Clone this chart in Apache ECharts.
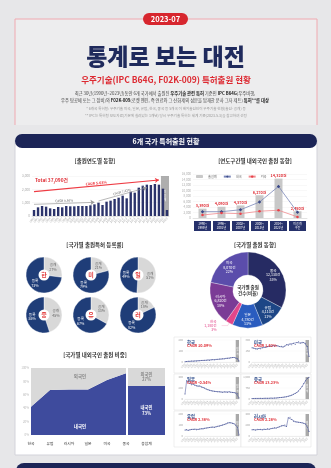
<!DOCTYPE html>
<html><head><meta charset="utf-8">
<script src="https://cdn.jsdelivr.net/npm/echarts/dist/echarts.min.js"></script>
<style>html,body{margin:0;padding:0;background:#e7e7e9;}#c{width:331px;height:468px;}</style>
</head><body><div id="c"></div><script>
// ---------- DATA ----------
const years = ['1990','1991','1992','1993','1994','1995','1996','1997','1998','1999','2000','2001','2002','2003','2004','2005','2006','2007','2008','2009','2010','2011','2012','2013','2014','2015','2016','2017','2018','2019','2020','2021','2022','2023'];
const yearlyApps = [450,650,750,700,575,525,675,650,750,725,725,750,750,750,800,875,1000,825,1075,1150,1275,1375,1525,1325,1825,1750,2125,2275,2350,2325,2400,2350,2050,450];
const yearlyTicks = [0,1000,2000,3000];

const periodLabels = ['1990~\n1995년','1996~\n2001년','2002~\n2007년','2008~\n2013년','2014~\n2021년','미공개\n구간'];
const periodTotal = [3390,4090,4570,8270,14320,2450];
const periodDomestic = [2300,2300,3000,5800,11500,2050];
const periodForeign = [1090,1790,1570,2470,2820,400];

const regCountries = ['한','미','일','중','유','러'];
const regRates = [73,79,49,55,67,82];

const countryNames = ['중국','유럽','일본','한국','러시아','미국'];
const countryCounts = [12130,4110,4780,1180,6820,8070];

const shareCountries = ['한국','유럽','러시아','일본','미국','중국'];
const domesticShare = [42,67,68,68,82,92];
const totalLabel = ['총합계'];
const totalDomesticShare = [73];

const lineNames = ['한국','미국','일본','중국','유럽','러시아'];
const lineCagr = ['CAGR 10.09%','CAGR 1.62%','CAGR -0.54%','CAGR 13.23%','CAGR 2.38%','CAGR 2.28%'];
const lineMax = [200,300,400,1500,200,400];
const krLine = [3,4,6,5,8,7,10,9,12,11,14,13,15,16,18,17,20,22,21,25,24,28,27,30,29,33,35,34,38,40,42,36,30,8];
const usLine = [195,190,180,175,185,180,195,205,200,210,215,210,222,215,225,220,210,215,205,215,235,228,245,235,255,240,265,275,258,270,265,255,210,75];
const jpLine = [90,330,340,280,260,270,250,240,230,235,220,210,200,180,170,160,150,145,140,135,130,132,128,125,130,128,125,130,122,120,118,110,95,20];
const cnLine = [30,35,40,38,42,45,40,48,50,55,52,60,58,65,70,80,95,110,120,140,160,190,220,260,320,380,450,550,700,850,1050,1250,1400,1480];
const euLine = [55,58,52,56,60,58,62,57,60,63,66,64,70,72,75,78,80,82,80,85,88,90,95,100,105,110,118,122,120,116,112,100,80,10];
const ruLine = [115,120,110,125,118,122,115,128,120,130,125,135,140,150,145,160,170,185,190,200,175,330,340,300,270,260,255,250,245,240,230,220,160,80];
const lineData = [krLine,usLine,jpLine,cnLine,euLine,ruLine];

// ---------- HELPERS ----------
const FONT = '"Noto Sans CJK KR","Noto Sans",sans-serif';
const fmt = n => String(n).replace(/\B(?=(\d{3})+(?!\d))/g, ',');
const NAVY = '#1c2557';
const RED = '#e0323a';
function T(text, x, y, size, color, weight, align, extra) {
  return Object.assign({type:'text', z:60, silent:true, style:Object.assign({text, x, y, fontSize:size, fontFamily:FONT,
    fontWeight:weight||'normal', fill:color, align:align||'center', verticalAlign:'middle'}, extra||{})});
}
const richB = {b:{fontSize:4.3, fontWeight:'bold', fill:'#1d1d1d', fontFamily:FONT}};

const graphic = [
  {type:'rect', z:-20, silent:true, shape:{x:15,y:19,width:302,height:106}, style:{fill:'#ededee'}},
  {type:'polyline', z:-19, silent:true, shape:{points:[[15,125],[15,19],[317,19],[317,125]]}, style:{stroke:'#f0a9b0', lineWidth:1, fill:null}},
  {type:'rect', z:-18, silent:true, shape:{x:143,y:13,width:45,height:12,r:6}, style:{fill:'#d7262e'}},
  T('2023-07',165.5,19.5,7.5,'#fff','bold'),
  T('통계로 보는 대전',165.5,56,23,'#1f2a5c','900'),
  T('우주기술(IPC B64G, F02K-009) 특허출원 현황',166,80,8.5,'#dd2a32','bold'),
  T('최근 30년(1990년~2023년)동안 6개 국가에서 출원된 {b|우주기술 관련 특허} 기준인 {b|IPC B64G}(우주비행,',165,93,4.3,'#444','normal','center',{rich:richB}),
  T('우주 탐공체 또는 그 장비)와 {b|F02K-009}(로켓 엔진, 즉 연료와 그 산화제의 성분을 탑재한 분사 그자 제트) {b|특허**를 대상}',165,100,4.3,'#444','normal','center',{rich:richB}),
  T('* 6개국 특허청: 우주기술 미국, 일본, 유럽, 한국, 중국 등 5개국 이 해외출원인이 우주기술 현황(출원·공개) 등',166,109,3.6,'#999'),
  T('** IPC는 특허청 보도자료(기본에 실려있는 1개년) 당시 우주기술 특허는 세계 기준(2023.5.3)을 참고하여 선정',166,116,3.6,'#999'),
  {type:'rect', z:-15, silent:true, shape:{x:15,y:140,width:302,height:315}, style:{fill:'#fff', stroke:'#d3d3da', lineWidth:1}},
  {type:'rect', z:-14, silent:true, shape:{x:15,y:134,width:302,height:14,r:7}, style:{fill:NAVY}},
  T('6개 국가 특허출원 현황',166,141,7,'#fff','bold'),
  {type:'rect', z:-14, silent:true, shape:{x:16,y:463,width:300,height:20,r:8}, style:{fill:NAVY}},
  T('[출원연도별 동향]',95,161,5.5,'#333','bold'),
  T('[연도구간별 내외국인 출원 동향]',255,161,5.5,'#333','bold'),
  T('[국가별 출원특허 등록률]',95,245,5.5,'#333','bold'),
  T('[국가별 출원 동향]',255,245,5.5,'#333','bold'),
  T('[국가별 내외국인 출원 비중]',95,355,5.5,'#333','bold'),
  T('Total 37,090건',35,180,4.8,RED,'bold','left'),
  T('국가별 출원\n건수(비율)',248,290,4.5,'#333','bold','center',{lineHeight:6}),
  T('외국인',80,376,4.5,'#8a8a8a','bold'),
  T('내국인',80,426,4.5,'#fff','bold')
];

// ---------- OPTION ----------
const grid = [
  {left:32, top:176, width:137, height:40},
  {left:193, top:174, width:114, height:44},
  {left:31, top:368, width:95, height:67},
  {left:128, top:368, width:37, height:67}
];
const xAxis = [
  {gridIndex:0, type:'category', data:years, axisTick:{show:false}, axisLine:{lineStyle:{color:'#ccc', width:0.5}},
   axisLabel:{fontSize:2.8, rotate:45, color:'#aaa', interval:0, margin:2}},
  {gridIndex:1, type:'category', data:periodLabels, axisTick:{show:false}, axisLine:{lineStyle:{color:'#ccc', width:0.5}},
   axisLabel:{interval:0, color:'#fff', fontSize:3, lineHeight:3.8, backgroundColor:'#26316b', width:17, height:9, padding:[1,0,0,0], margin:3, align:'center'}},
  {gridIndex:2, type:'category', data:shareCountries, boundaryGap:false, axisTick:{show:false}, axisLine:{show:false},
   axisLabel:{fontSize:3.8, color:'#333', margin:7}},
  {gridIndex:3, type:'category', data:totalLabel, axisTick:{show:false}, axisLine:{show:false},
   axisLabel:{fontSize:3.8, color:'#333', margin:7}}
];
const yAxis = [
  {gridIndex:0, type:'value', min:yearlyTicks[0], max:yearlyTicks[3], interval:1000, axisLabel:{fontSize:3.2, color:'#aaa', margin:2, formatter:v=>fmt(v)}, splitLine:{lineStyle:{color:'#f0f0f0', width:0.5}}},
  {gridIndex:1, type:'value', min:0, max:16000, interval:2000, axisLabel:{fontSize:3, color:'#aaa', margin:2, formatter:v=>fmt(v)}, splitLine:{lineStyle:{color:'#f0f0f0', width:0.5}}},
  {gridIndex:2, type:'value', min:0, max:100, interval:20, axisLabel:{fontSize:3, color:'#bbb', margin:2, formatter:'{value}%'}, splitLine:{show:false}},
  {gridIndex:3, type:'value', min:0, max:100, show:false}
];
const series = [];
// yearly bars
series.push({type:'bar', xAxisIndex:0, yAxisIndex:0, data:yearlyApps, barWidth:2.4, itemStyle:{color:'#2b336b'},
  markArea:{silent:true, itemStyle:{color:'rgba(140,140,140,0.7)'}, label:{show:true, position:'inside', formatter:'미\n공\n개', fontSize:3, lineHeight:4, color:'#fff'},
    data:[[{xAxis:'2022'},{xAxis:'2023'}]]},
  markLine:{silent:true, symbol:['none','arrow'], symbolSize:4, animation:false,
    data:[
      [{coord:['1990',1825], lineStyle:{color:'#ee3b43', width:1.1, type:'solid'}, label:{show:true, position:'middle', formatter:'CAGR 5.68%', color:'#ee3b43', fontSize:3.6, fontWeight:'bold', distance:1}}, {coord:['2021',2700]}],
      [{coord:['1990',875], lineStyle:{color:'#999', width:0.7, type:'solid'}, label:{show:true, position:'middle', formatter:'CAGR 0.56%', color:'#666', fontSize:3.2, distance:1}}, {coord:['2005',1025]}],
      [{coord:['2006',1125], lineStyle:{color:'#999', width:0.7, type:'solid'}, label:{show:true, position:'middle', formatter:'CAGR 7.42%', color:'#666', fontSize:3.2, distance:1}}, {coord:['2018',2125]}]
    ]}
});
// period chart
series.push({name:'출원계', type:'bar', xAxisIndex:1, yAxisIndex:1, data:periodTotal, barWidth:8, itemStyle:{color:'#c8c8c8'},
  label:{show:true, position:'top', distance:1, color:RED, fontSize:3.8, fontWeight:'bold', formatter:p=>fmt(p.value)+'건'}});
series.push({name:'내국', type:'line', xAxisIndex:1, yAxisIndex:1, data:periodDomestic, symbol:'diamond', symbolSize:3.5, itemStyle:{color:'#3b4a88'}, lineStyle:{width:0.8, color:'#7a86b8'}});
series.push({name:'외국', type:'line', xAxisIndex:1, yAxisIndex:1, data:periodForeign, symbol:'circle', symbolSize:2.5, itemStyle:{color:'#e8424a'}, lineStyle:{width:0.8, color:'#f08a8e'}});
// registration pies
const pcx = [44,91,138], pcy = [275,315];
regCountries.forEach((ch,i)=>{
  const c = [pcx[i%3], pcy[Math.floor(i/3)]];
  const r = regRates[i];
  series.push({type:'pie', center:c, radius:[0,18], startAngle:90, silent:true, animation:false,
    itemStyle:{borderColor:'#fff', borderWidth:0.4},
    label:{show:true, position:'inside', formatter:'{b}\n{c}%', fontSize:3.6, lineHeight:4.4},
    labelLine:{show:false},
    data:[{name:'공개', value:100-r, itemStyle:{color:'#d8d8d8'}, label:{color:'#666'}},
          {name:'등록', value:r, itemStyle:{color:'#1f3d78'}, label:{color:'#fff'}}]});
  series.push({type:'pie', center:c, radius:[0,5.5], silent:true, animation:false, z:5,
    label:{show:true, position:'center', formatter:'{b}', fontSize:6, fontWeight:'bold', color:'#e23a3a'},
    data:[{name:ch, value:1, itemStyle:{color:'#fff'}}]});
});
// donut
const donutColors = ['#262b63','#1d4686','#2a5cbf','#e2468a','#7b3b96','#5b4dab'];
const totalCnt = countryCounts.reduce((a,b)=>a+b,0);
series.push({type:'pie', center:[248,290], radius:[15,38], startAngle:90, silent:true, animation:false,
  itemStyle:{borderColor:'#fff', borderWidth:0.3},
  label:{show:true, position:'inside', color:'#fff', fontSize:3.6, lineHeight:4.4,
    formatter:p=>p.name+'\n'+fmt(p.value)+'건\n'+Math.round(p.value/totalCnt*100)+'%'},
  labelLine:{show:false},
  data:countryNames.map((n,i)=>{
    const d = {name:n, value:countryCounts[i], itemStyle:{color:donutColors[i]}};
    if (n==='한국') { d.label = {position:'outside', color:'#e2468a', fontSize:3.6, lineHeight:4.4}; d.labelLine = {show:true, length:3, length2:6, lineStyle:{color:'#f0a0c0', width:0.4}}; }
    return d;
  })});
// share area
series.push({name:'내국인', type:'line', xAxisIndex:2, yAxisIndex:2, stack:'share', data:domesticShare.map((v,i)=>({value:v, label: i===0?{align:'left'}:(i===domesticShare.length-1?{align:'right'}:{})})),
  symbol:'none', lineStyle:{width:0}, areaStyle:{color:'#3e4b9d', opacity:1},
  label:{show:true, position:'bottom', distance:2.5, color:'#fff', fontSize:3.8, formatter:'{c}%'}});
series.push({name:'외국인', type:'line', xAxisIndex:2, yAxisIndex:2, stack:'share', data:domesticShare.map(v=>100-v),
  symbol:'none', lineStyle:{width:0}, areaStyle:{color:'#d9d9d9', opacity:1}});
series.push({type:'bar', xAxisIndex:3, yAxisIndex:3, stack:'tot', data:totalDomesticShare, barWidth:'100%', itemStyle:{color:'#3e4b9d'},
  label:{show:true, position:'inside', color:'#fff', fontSize:4.3, fontWeight:'bold', lineHeight:5.5, formatter:p=>'내국인\n'+p.value+'%'}});
series.push({type:'bar', xAxisIndex:3, yAxisIndex:3, stack:'tot', data:totalDomesticShare.map(v=>100-v), barWidth:'100%', itemStyle:{color:'#d9d9d9'},
  label:{show:true, position:'inside', color:'#8a8a8a', fontSize:4.3, fontWeight:'bold', lineHeight:5.5, formatter:p=>'외국인\n'+p.value+'%'}});
// small line charts
lineNames.forEach((nm,k)=>{
  const row = Math.floor(k/2), col = k%2;
  const left = col ? 252 : 185, top = 340 + row*37, width = col ? 57 : 54;
  const gi = grid.length;
  grid.push({left, top, width, height:22});
  xAxis.push({gridIndex:gi, type:'category', data:years, boundaryGap:false, axisTick:{show:false}, axisLine:{lineStyle:{color:'#ddd', width:0.5}},
    axisLabel:{fontSize:2.5, rotate:45, color:'#aaa', interval:1, margin:2}});
  yAxis.push({gridIndex:gi, type:'value', min:0, max:lineMax[k], interval:lineMax[k]/2, axisLabel:{fontSize:2.7, color:'#999', margin:2, formatter:v=>fmt(v)},
    splitLine:{lineStyle:{color:'#f2f2f2', width:0.4}}});
  series.push({type:'line', xAxisIndex:gi, yAxisIndex:gi, data:lineData[k], symbol:'circle', symbolSize:1, showSymbol:true,
    itemStyle:{color:'#4b5798'}, lineStyle:{width:0.6, color:'#5a66a6'},
    markArea:{silent:true, itemStyle:{color:'rgba(140,140,140,0.75)'}, label:{show:true, position:'inside', formatter:'미\n공\n개', fontSize:2.5, lineHeight:3.2, color:'#fff'},
      data:[[{xAxis:'2021'},{xAxis:'2023'}]]}});
  graphic.push({type:'rect', z:-10, silent:true, shape:{x:left-11, y:top-3, width:width+13, height:36}, style:{fill:'#fff', stroke:'#e4e4e4', lineWidth:0.6}});
  graphic.push(T(nm, left+2, top+2, 4.3, '#2b4a8a', 'bold', 'left'));
  graphic.push(T(lineCagr[k], left+2, top+6, 3.8, RED, 'bold', 'left'));
});

const chart = echarts.init(document.getElementById('c'), null, {renderer:'canvas'});
chart.setOption({
  backgroundColor:'#e7e7e9',
  animation:false,
  textStyle:{fontFamily:FONT},
  legend:{data:['출원계','내국','외국'], left:196, top:175, itemWidth:7, itemHeight:3, itemGap:6, padding:0, textStyle:{fontSize:3.2, color:'#666'}},
  graphic, grid, xAxis, yAxis, series
});
</script></body></html>
